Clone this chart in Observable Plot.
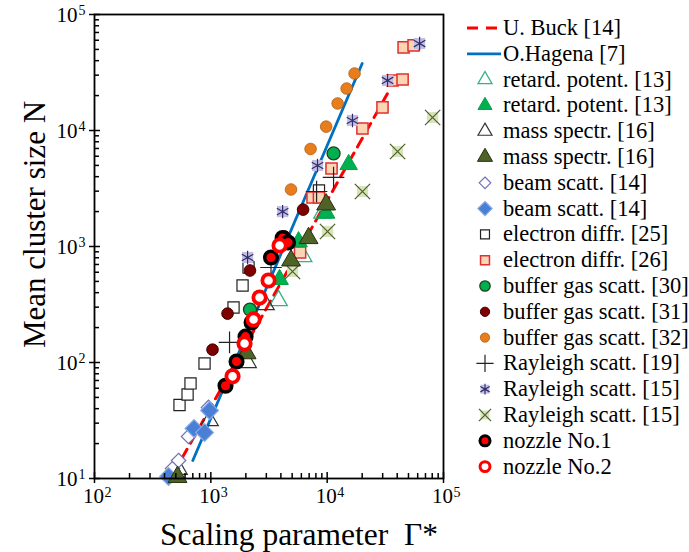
<!DOCTYPE html>
<html><head><meta charset="utf-8">
<script src="https://cdn.jsdelivr.net/npm/d3@7"></script>
<script src="https://cdn.jsdelivr.net/npm/@observablehq/plot@0.6"></script>
<style>
body{margin:0;background:#fff;}
#wrap{position:relative;width:689px;height:552px;background:#fff;}
#wrap svg{position:absolute;left:0;top:0;}
</style></head><body><div id="wrap"></div>
<script>
// ---- data: [Gamma*, N] ----
const buckLine   = [[480, 11.2], [33000, 20800]];
const hagenaLine = [[700, 14.3], [20000, 37800]];
const retardOpen   = [[3820,342],[6210,820],[9120,1940]];
const retardFilled = [[3900,520],[5680,1100],[9800,1940],[15300,5090]];
const massOpen     = [[528,12],[975,31.6],[2070,100],[2950,316]];
const massFilled   = [[517,10.3],[2030,120],[4890,757],[6920,1180],[9800,2300]];
const beamOpen     = [[469,12.2],[528,14.3],[643,23],[955,41]];
const beamFilled   = [[433,10.4],[717,27],[883,24.9],[975,38.6]];
const elecOpen     = [[538,43],[631,53],[669,66],[883,98],[1567,298],[1874,461],[2110,659],[8500,3040]];
const elecFilled   = [[5850,888],[7490,2644],[8500,2644],[10900,4700],[20100,10400],[29900,15800],[36500,27000],[44500,27500],[45400,52000],[55300,54100]];
const buffer30     = [[2170,286],[11350,6340]];
const buffer31     = [[1034,129],[1392,264],[2170,621],[4300,1220],[6210,2080]];
const buffer32     = [[4890,3100],[7200,6930],[9800,10800],[12300,17100],[14700,23000],[17200,31000]];
const rayleigh19   = [[1448,149],[3290,659],[8110,2980],[11350,3940]];
const rayleigh15a  = [[2070,804],[4140,2000],[8260,4990],[16500,12200],[33050,27000],[62300,56200]];
const rayleigh15b  = [[5040,609],[10070,1347],[20100,2980],[40300,6590],[80600,12950]];
const nozzle1      = [[1337,63],[1663,102],[1988,167],[2240,221],[3290,804],[4140,1184],[4610,1082]];
const nozzle2      = [[1537,76],[1949,146],[2330,235],[2623,363],[3134,509],[3897,1020]];

const xTickExp = [2,3,4,5];
const yTickExp = [1,2,3,4,5];
const legendLabels = ["U. Buck [14]","O.Hagena [7]","retard. potent. [13]","retard. potent. [13]","mass spectr. [16]","mass spectr. [16]","beam scatt. [14]","beam scatt. [14]","electron diffr. [25]","electron diffr. [26]","buffer gas scatt. [30]","buffer gas scatt. [31]","buffer gas scatt. [32]","Rayleigh scatt. [19]","Rayleigh scatt. [15]","Rayleigh scatt. [15]","nozzle No.1","nozzle No.2"];
const xTitle = "Scaling parameter\u00a0 Γ*";
const yTitle = "Mean cluster size N";

// ---- styles ----
const serif = "Liberation Serif, Tinos, Times New Roman, Times, DejaVu Serif, Noto Serif, serif";
const W=689, H=552, mL=94, mR=246, mT=14, mB=74;
const plotW = W-mL-mR, plotH = H-mT-mB;
const S = {
  retardOpen:   [{symbol:"triangle", r:6.5, fill:"none", stroke:"#33b08c", strokeWidth:1.3}],
  retardFilled: [{symbol:"triangle", r:6.5, fill:"#00b050", stroke:"#00a048", strokeWidth:1}],
  massOpen:     [{symbol:"triangle", r:6.5, fill:"none", stroke:"#333", strokeWidth:1.2}],
  massFilled:   [{symbol:"triangle", r:7, fill:"#4f6228", stroke:"#26300f", strokeWidth:1}],
  beamOpen:     [{symbol:"diamond2", r:6.5, fill:"white", stroke:"#7070b8", strokeWidth:1.2}],
  beamFilled:   [{symbol:"diamond2", r:8, fill:"#4a7fd6", stroke:"#88a8e6", strokeWidth:1.2}],
  elecOpen:     [{symbol:"square", r:6.3, fill:"white", stroke:"#222", strokeWidth:1.2}],
  elecFilled:   [{symbol:"square", r:6.3, fill:"#fcd5b4", stroke:"#e03030", strokeWidth:1.5}],
  buffer30:     [{symbol:"circle", r:6.5, fill:"#00b050", stroke:"#1f3f1f", strokeWidth:1.3}],
  buffer31:     [{symbol:"circle", r:5.8, fill:"#800000", stroke:"#3b0000", strokeWidth:1}],
  buffer32:     [{symbol:"circle", r:5.8, fill:"#e87d1e", stroke:"#b05a10", strokeWidth:0.8}],
  rayleigh19:   [{symbol:"plus", r:7, fill:"none", stroke:"#222", strokeWidth:1.2}],
  rayleigh15a:  [{symbol:"square", r:6.3, fill:"#c4bde2", stroke:"none"},{symbol:"asterisk", r:6.3, fill:"none", stroke:"#2e2e6e", strokeWidth:1.2}],
  rayleigh15b:  [{symbol:"square", r:6.3, fill:"#d7e4bd", stroke:"none"},{symbol:"times", r:7, fill:"none", stroke:"#4f6228", strokeWidth:1.3}],
  nozzle1:      [{symbol:"circle", r:6.3, fill:"#ff0000", stroke:"#000", strokeWidth:3.5}],
  nozzle2:      [{symbol:"circle", r:6.2, fill:"white", stroke:"#ff0000", strokeWidth:3.8}]
};
const drawOrder = [
  ["elecOpen",elecOpen],["rayleigh15b",rayleigh15b],["retardOpen",retardOpen],["massOpen",massOpen],
  ["beamOpen",beamOpen],["beamFilled",beamFilled],["elecFilled",elecFilled],["rayleigh15a",rayleigh15a],
  ["retardFilled",retardFilled],["massFilled",massFilled],["buffer32",buffer32],["buffer30",buffer30],
  ["buffer31",buffer31],["rayleigh19",rayleigh19],["nozzle1",nozzle1],["nozzle2",nozzle2]
];
const xy = {x: d=>d[0], y: d=>d[1]};
const xMinor = d3.range(2,5).flatMap(e=>d3.range(2,10).map(m=>m*10**e));
const yMinor = d3.range(1,5).flatMap(e=>d3.range(2,10).map(m=>m*10**e));

const dotMarks = drawOrder.flatMap(([k,data]) => S[k].map(st => Plot.dot(data, {...xy, ...st})));

const chart = Plot.plot({
  width: W, height: H, marginLeft: mL, marginRight: mR, marginTop: mT, marginBottom: mB,
  style: {fontFamily: serif, background: "white", color: "#000"},
  x: {type:"log", domain:[1e2,1e5], axis:null},
  y: {type:"log", domain:[10,1e5], axis:null},
  marks: [
    Plot.line(hagenaLine, {...xy, stroke:"#0070c0", strokeWidth:2.8}),
    Plot.line(buckLine, {...xy, stroke:"#ff0000", strokeWidth:3, strokeDasharray:"10,7"}),
    ...dotMarks,
    Plot.frame({stroke:"#000", strokeWidth:1.8}),
    Plot.ruleX(xMinor, {x:d=>d, insetTop: plotH-5, stroke:"#000", strokeWidth:1.5}),
    Plot.ruleX(xTickExp.map(e=>10**e), {x:d=>d, insetTop: plotH-6, insetBottom:-5, stroke:"#000", strokeWidth:1.5}),
    Plot.ruleY(yMinor, {y:d=>d, insetRight: plotW-5, stroke:"#000", strokeWidth:1.5}),
    Plot.ruleY(yTickExp.map(e=>10**e), {y:d=>d, insetRight: plotW-6, insetLeft:-5, stroke:"#000", strokeWidth:1.5}),
    Plot.text(xTickExp, {x:d=>10**d, text:()=>"10", frameAnchor:"bottom", textAnchor:"middle", lineAnchor:"bottom", dx:-1, dy:24, fontSize:21, fontFamily:serif, fill:"#000"}),
    Plot.text(xTickExp, {x:d=>10**d, text:d=>String(d), frameAnchor:"bottom", textAnchor:"start", lineAnchor:"bottom", dx:10, dy:18, fontSize:14, fontFamily:serif, fill:"#000"}),
    Plot.text(yTickExp, {y:d=>10**d, text:()=>"10", frameAnchor:"left", textAnchor:"end", lineAnchor:"bottom", dx:-17, dy:7, fontSize:21, fontFamily:serif, fill:"#000"}),
    Plot.text(yTickExp, {y:d=>10**d, text:d=>String(d), frameAnchor:"left", textAnchor:"start", lineAnchor:"bottom", dx:-16, dy:0, fontSize:14, fontFamily:serif, fill:"#000"}),
    Plot.text([xTitle], {frameAnchor:"bottom", textAnchor:"middle", lineAnchor:"bottom", dx:30, dy:66, fontSize:31.5, fontFamily:serif, fill:"#000"}),
    Plot.text([yTitle], {frameAnchor:"left", textAnchor:"middle", rotate:-90, lineAnchor:"bottom", dx:-50, dy:-22, fontSize:31, fontFamily:serif, fill:"#000"})
  ]
});
const wrap = document.getElementById("wrap");
wrap.appendChild(chart);

// ---- legend ----
const leg = d3.select(wrap).append("svg").attr("width", W).attr("height", H);
const legendStyles = [
  {line:true, stroke:"#ff0000", dash:"11,8", sw:3},
  {line:true, stroke:"#0070c0", sw:2.8},
  S.retardOpen, S.retardFilled, S.massOpen, S.massFilled, S.beamOpen, S.beamFilled,
  S.elecOpen, S.elecFilled, S.buffer30, S.buffer31, S.buffer32, S.rayleigh19,
  S.rayleigh15a, S.rayleigh15b, S.nozzle1, S.nozzle2
];
const symMap = {circle:d3.symbolCircle, triangle:d3.symbolTriangle, diamond2:d3.symbolDiamond2, square:d3.symbolSquare, plus:d3.symbolPlus, asterisk:d3.symbolAsterisk, times:d3.symbolTimes};
const lx = 485, tx = 503, y0 = 28, dy = 25.8;
legendLabels.forEach((lab, i) => {
  const y = y0 + i*dy;
  const st = legendStyles[i];
  if (st.line) {
    leg.append("line").attr("x1", 467).attr("x2", 501).attr("y1", y).attr("y2", y)
      .attr("stroke", st.stroke).attr("stroke-width", st.sw).attr("stroke-dasharray", st.dash || null);
  } else {
    st.forEach(s => {
      const r = s.r * 0.8;
      leg.append("path").attr("transform", `translate(${lx},${y})`)
        .attr("d", d3.symbol(symMap[s.symbol], Math.PI*r*r)())
        .attr("fill", s.fill).attr("stroke", s.stroke)
        .attr("stroke-width", s.strokeWidth ? Math.min(s.strokeWidth, 3) : null);
    });
  }
  leg.append("text").attr("x", tx).attr("y", y + 7).attr("font-family", serif)
    .attr("font-size", 22.5).attr("fill", "#000").text(lab);
});
</script></body></html>
